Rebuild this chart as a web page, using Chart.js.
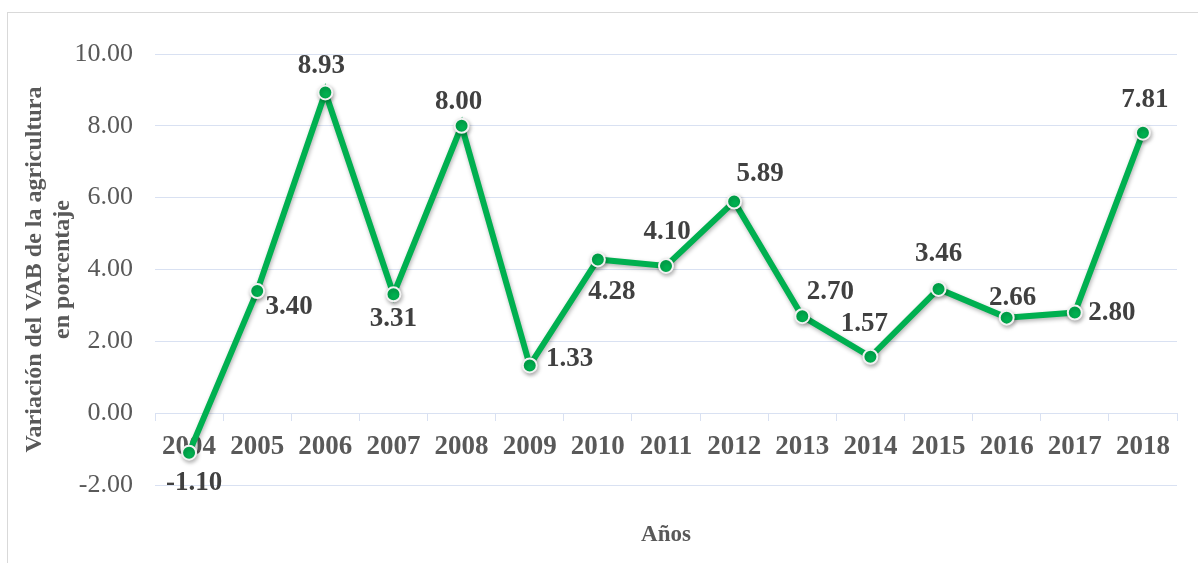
<!DOCTYPE html>
<html lang="es">
<head>
<meta charset="utf-8">
<title>Variación del VAB de la agricultura</title>
<script src="https://cdn.jsdelivr.net/npm/chart.js@4"></script>
<style>
  body { margin: 0; background: #ffffff; overflow: hidden; }
  #marco {
    position: absolute; left: 7px; top: 12px;
    width: 1200px; height: 560px;
    border: 1px solid #d9d9d9;
  }
  #contenedor { position: absolute; left: 0; top: 0; width: 1190px; height: 550px; }
</style>
</head>
<body>
<div id="marco">
  <div id="contenedor"><canvas id="grafico"></canvas></div>
</div>
<script>
const anios = ['2004', '2005', '2006', '2007', '2008', '2009', '2010', '2011',
               '2012', '2013', '2014', '2015', '2016', '2017', '2018'];
const variacion = [-1.10, 3.40, 8.93, 3.31, 8.00, 1.33, 4.28, 4.10,
                   5.89, 2.70, 1.57, 3.46, 2.66, 2.80, 7.81];
const minY = -2;
const maxY = 10;
const pasoY = 2;

// donde va cada etiqueta respecto a su punto (dx, dy en px)
const desplazamientos = [[5, 30], [32, 16], [-4, -26], [0, 25], [-3, -24],
                         [40, -6], [14, 33], [1, -34], [26, -28], [28, -24],
                         [-6, -33], [0, -35], [6, -20], [37, 0], [2, -33]];

const fuente = '"Liberation Serif", "Times New Roman", serif';
const gris = '#595959';
const verde = '#00b050';
const colorGrilla = '#d9e1f2';

Chart.defaults.font.family = fuente;
Chart.defaults.color = gris;

const sombra = {
    id: 'sombra',
    beforeDatasetsDraw(chart) {
        const ctx = chart.ctx;
        ctx.save();
        ctx.shadowColor = 'rgba(0, 0, 0, 0.3)';
        ctx.shadowBlur = 4;
        ctx.shadowOffsetX = 1;
        ctx.shadowOffsetY = 2;
    },
    afterDatasetsDraw(chart) {
        chart.ctx.restore();
    }
};

const etiquetas = {
    id: 'etiquetas',
    afterDatasetsDraw(chart) {
        const ctx = chart.ctx;
        const puntos = chart.getDatasetMeta(0).data;
        ctx.save();
        ctx.font = 'bold 27px ' + fuente;
        ctx.fillStyle = '#404040';
        ctx.textAlign = 'center';
        ctx.textBaseline = 'middle';
        puntos.forEach((p, i) => {
            const d = desplazamientos[i];
            ctx.fillText(variacion[i].toFixed(2), p.x + d[0], p.y + d[1]);
        });
        ctx.restore();
    }
};

const ctx = document.getElementById('grafico').getContext('2d');

const config = {
    type: 'line',
    data: {
        labels: anios,
        datasets: [
            {
                label: 'Variación',
                data: variacion,
                borderColor: verde,
                borderWidth: 6,
                tension: 0,
                pointRadius: 7,
                pointBackgroundColor: verde,
                pointBorderColor: '#f2f2f2',
                pointBorderWidth: 2,
                clip: false
            }
        ]
    },
    options: {
        responsive: true,
        maintainAspectRatio: false,
        animation: false,
        layout: { padding: { top: 41, right: 21, bottom: 0, left: 0 } },
        plugins: {
            legend: { display: false },
            tooltip: { enabled: false },
            title: {
                display: true,
                text: 'Años',
                position: 'bottom',
                fullSize: false,
                color: gris,
                font: { size: 23, weight: 'bold', lineHeight: 1.2 },
                padding: { top: 36.2, bottom: 14.2 }
            }
        },
        scales: {
            x: {
                position: { y: 0 },
                offset: true,
                grid: {
                    offset: true,
                    drawOnChartArea: false,
                    drawTicks: true,
                    tickLength: 7,
                    color: colorGrilla
                },
                border: { display: true, color: colorGrilla, width: 1 },
                ticks: {
                    padding: 11,
                    color: gris,
                    maxRotation: 0,
                    autoSkip: false,
                    font: { size: 27, weight: 'bold' }
                }
            },
            y: {
                min: minY,
                max: maxY,
                afterFit: s => { s.width = 147; },
                grid: { color: colorGrilla, lineWidth: 1, drawTicks: false },
                border: { display: false },
                ticks: {
                    stepSize: pasoY,
                    padding: 22,
                    color: gris,
                    font: { size: 26 },
                    callback: v => v.toFixed(2)
                },
                title: {
                    display: true,
                    text: ['Variación del VAB de la agricultura', 'en porcentaje'],
                    color: gris,
                    font: { size: 24, weight: 'bold', lineHeight: 1.167 },
                    padding: { top: 13, bottom: 0 }
                }
            }
        }
    },
    plugins: [sombra, etiquetas]
};

const grafico = new Chart(ctx, config);
</script>
</body>
</html>
